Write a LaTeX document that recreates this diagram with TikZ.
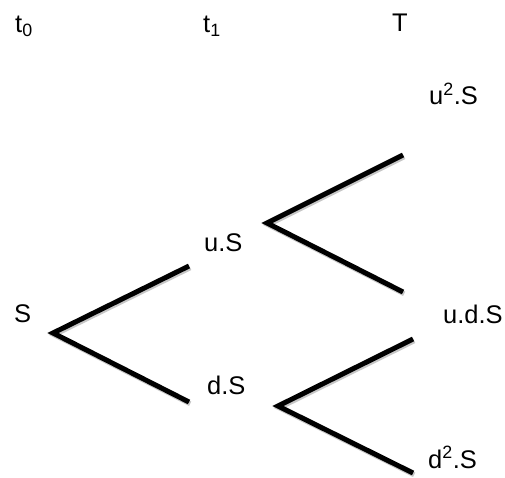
\documentclass[tikz,border=0pt]{standalone}
\usepackage{fontspec}
\setmainfont{Liberation Sans}
\begin{document}
\begin{tikzpicture}[x=1pt,y=-1pt,
  lbl/.style={anchor=base west,inner sep=0pt,font=\fontsize{25.5}{30}\selectfont},
  branch/.style={line width=5pt,line join=miter,line cap=butt,
    preaction={draw=black!22,line width=5pt,
      transform canvas={shift={(1.2pt,-1.8pt)}}}}]
\useasboundingbox (0,0) rectangle (505,478);

% time axis labels
\node[lbl] (t0) at (15,33) {t\textsubscript{0}};
\node[lbl] (t1) at (203,33) {t\textsubscript{1}};
\node[lbl] (tT) at (392,32) {T};

% price labels
\node[lbl] (s)   at (14,322)  {S};
\node[lbl] (us)  at (204,251) {u.S};
\node[lbl] (ds)  at (207,394) {d.S};
\node[lbl] (uus) at (429,105) {u\textsuperscript{2}.S};
\node[lbl] (uds) at (443,323) {u.d.S};
\node[lbl] (dds) at (428,468) {d\textsuperscript{2}.S};

% fork vertices and branch ends
\coordinate (v0) at (53,333);
\coordinate (e0u) at (189,266);
\coordinate (e0d) at (189,402);
\coordinate (vu) at (267,223);
\coordinate (euu) at (403,155);
\coordinate (eud) at (403,292);
\coordinate (vd) at (278,406);
\coordinate (edu) at (413,339);
\coordinate (edd) at (413,473);

\draw[branch] (e0u) -- (v0) -- (e0d);
\draw[branch] (euu) -- (vu) -- (eud);
\draw[branch] (edu) -- (vd) -- (edd);
\end{tikzpicture}
\end{document}
